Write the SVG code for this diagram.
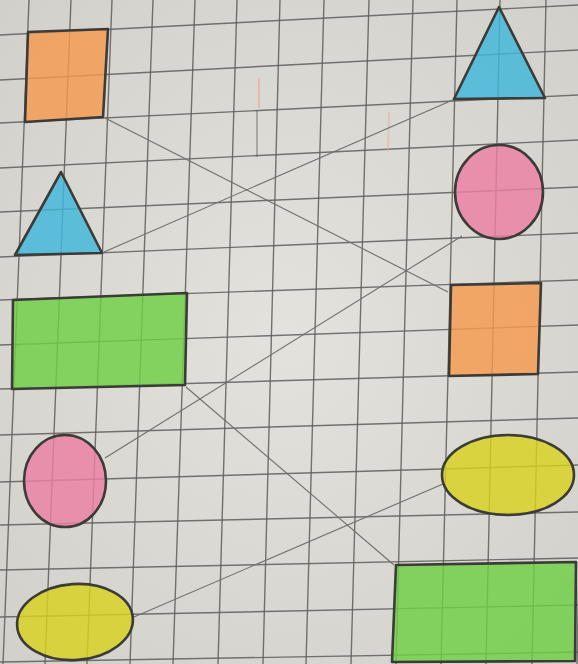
<svg xmlns="http://www.w3.org/2000/svg" width="578" height="664" viewBox="0 0 578 664">
<defs>
<radialGradient id="paper" cx="50%" cy="50%" r="70%">
<stop offset="0" stop-color="#e4e2dc"/>
<stop offset="1" stop-color="#d2d0ca"/>
</radialGradient>
</defs>
<style>
.grid line{stroke:#5e5e5c;stroke-width:1.4;opacity:0.85}
.conn line{stroke:#6f6f6c;stroke-width:1.1}
.shape{stroke:#3b3b38;stroke-width:2.6;stroke-linejoin:round;fill-opacity:0.82}
.orange{fill:#f59a4e}
.blue{fill:#3fb7da}
.green{fill:#6fcf45}
.pink{fill:#ec7fa3}
.yellow{fill:#d8d21f}
</style>
<rect x="0" y="0" width="578" height="664" fill="url(#paper)"/>
<g class="grid">
<line x1="29" y1="0" x2="3" y2="664"/>
<line x1="71" y1="0" x2="45" y2="664"/>
<line x1="112" y1="0" x2="87" y2="664"/>
<line x1="153" y1="0" x2="130" y2="664"/>
<line x1="195" y1="0" x2="173" y2="664"/>
<line x1="237" y1="0" x2="218" y2="664"/>
<line x1="280" y1="0" x2="263" y2="664"/>
<line x1="324" y1="0" x2="306" y2="664"/>
<line x1="369" y1="0" x2="351" y2="664"/>
<line x1="413" y1="0" x2="396" y2="664"/>
<line x1="457" y1="0" x2="441" y2="664"/>
<line x1="500" y1="0" x2="486" y2="664"/>
<line x1="546" y1="0" x2="532" y2="664"/>
<line x1="590" y1="0" x2="577" y2="664"/>
<line x1="0" y1="35" x2="578" y2="5"/>
<line x1="0" y1="80" x2="578" y2="50"/>
<line x1="0" y1="123" x2="578" y2="95"/>
<line x1="0" y1="168" x2="578" y2="140"/>
<line x1="0" y1="212" x2="578" y2="187"/>
<line x1="0" y1="257" x2="578" y2="233"/>
<line x1="0" y1="300" x2="578" y2="280"/>
<line x1="0" y1="345" x2="578" y2="325"/>
<line x1="0" y1="389" x2="578" y2="372"/>
<line x1="0" y1="435" x2="578" y2="418"/>
<line x1="0" y1="482" x2="578" y2="465"/>
<line x1="0" y1="525" x2="578" y2="512"/>
<line x1="0" y1="570" x2="578" y2="558"/>
<line x1="0" y1="617" x2="578" y2="605"/>
<line x1="0" y1="662" x2="578" y2="652"/>
</g>
<g id="marks" opacity="0.5">
<line x1="257" y1="110" x2="257" y2="157" stroke="#555" stroke-width="1.5"/>
<line x1="259" y1="78" x2="259" y2="108" stroke="#e8a080" stroke-width="2"/>
<line x1="389" y1="112" x2="388" y2="152" stroke="#e8b0a0" stroke-width="2"/>
</g>
<g class="conn">
<line x1="105" y1="118" x2="448" y2="292"/>
<line x1="104" y1="252" x2="455" y2="99"/>
<line x1="186" y1="387" x2="394" y2="565"/>
<line x1="105" y1="458" x2="462" y2="236"/>
<line x1="134" y1="617" x2="443" y2="484"/>
</g>
<g id="left-square"><polygon class="shape orange" points="28,32 108,29 103,117 25,122"/></g>
<g id="left-triangle"><polygon class="shape blue" points="61,172 102,253 15,255"/></g>
<g id="left-rect"><polygon class="shape green" points="13,300 187,293 185,385 12,389"/></g>
<g id="left-circle"><ellipse class="shape pink" cx="65" cy="481" rx="41" ry="46"/></g>
<g id="left-oval"><ellipse class="shape yellow" cx="75" cy="622" rx="58" ry="38" transform="rotate(-4 75 622)"/></g>
<g id="right-triangle"><polygon class="shape blue" points="499,7 545,98 454,99"/></g>
<g id="right-circle"><ellipse class="shape pink" cx="499" cy="192" rx="44" ry="47"/></g>
<g id="right-square"><polygon class="shape orange" points="451,285 541,283 538,374 449,376"/></g>
<g id="right-oval"><ellipse class="shape yellow" cx="508" cy="475" rx="66" ry="40"/></g>
<g id="right-rect"><polygon class="shape green" points="396,565 576,562 575,661 392,662"/></g>
</svg>
